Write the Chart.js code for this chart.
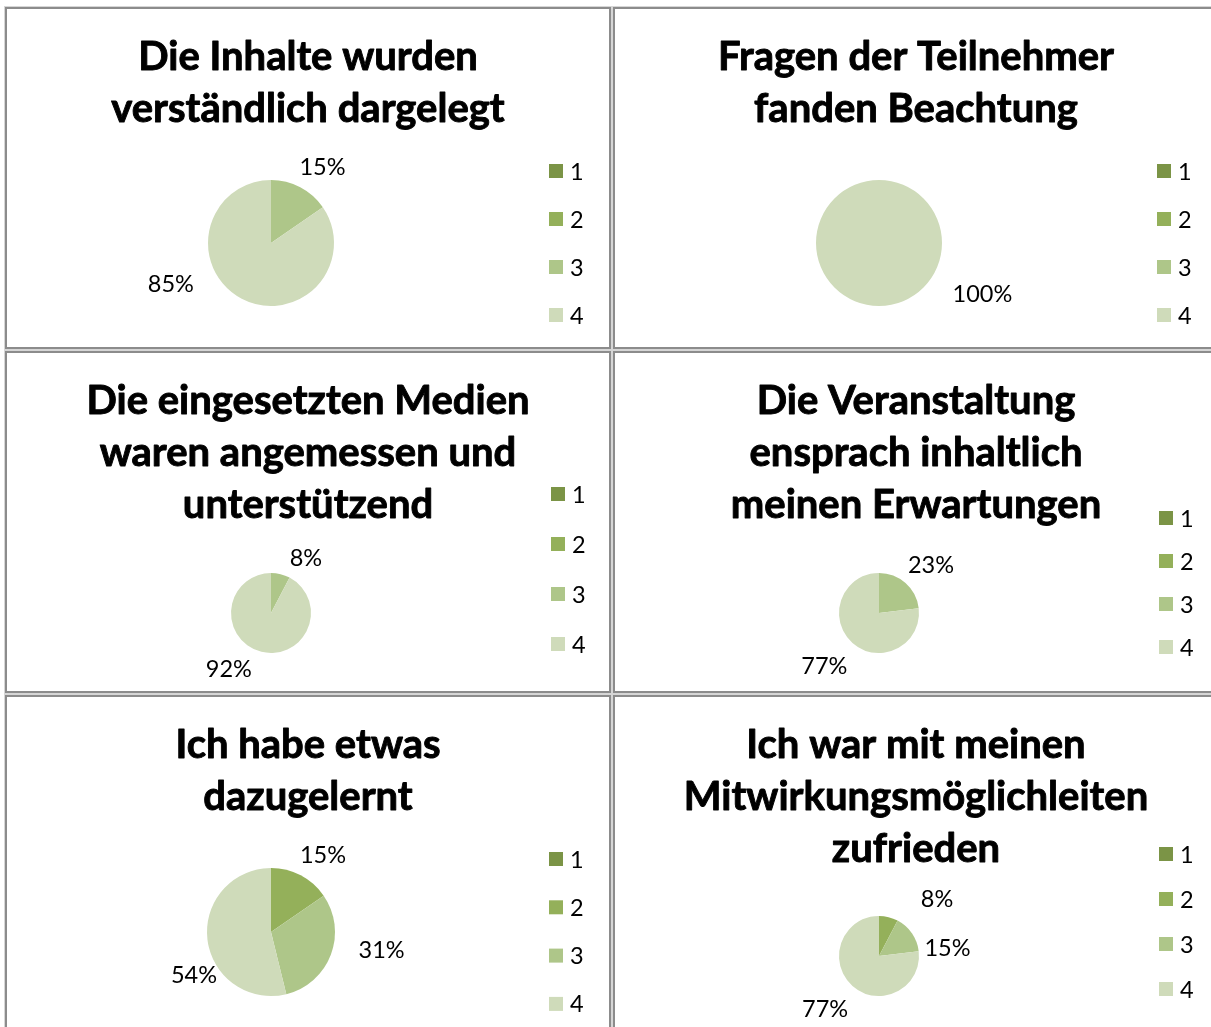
<!DOCTYPE html>
<html><head><meta charset="utf-8">
<script src="https://cdn.jsdelivr.net/npm/chart.js@4.4.1/dist/chart.umd.min.js"></script>
<style>
html,body{margin:0;padding:0;background:#fff;}
body{width:1211px;height:1027px;overflow:hidden;position:relative;}
.panel{position:absolute;box-sizing:border-box;width:606px;height:342px;border:2px solid #8c8c8c;box-shadow:0 0 0 1px #d6d6d6;background:#fff;}
.panel canvas{position:absolute;left:0;top:0;}
</style></head><body>
<script>
// ---- data ----
const categories = ['1', '2', '3', '4'];

const title1 = ['Die Inhalte wurden', 'verständlich dargelegt'];
const title2 = ['Fragen der Teilnehmer', 'fanden Beachtung'];
const title3 = ['Die eingesetzten Medien', 'waren angemessen und', 'unterstützend'];
const title4 = ['Die Veranstaltung', 'ensprach inhaltlich', 'meinen Erwartungen'];
const title5 = ['Ich habe etwas', 'dazugelernt'];
const title6 = ['Ich war mit meinen', 'Mitwirkungsmöglichleiten', 'zufrieden'];

// answer counts per rating 1..4 (13 responses)
const values1 = [0, 0, 2, 11];
const values2 = [0, 0, 0, 13];
const values3 = [0, 0, 1, 12];
const values4 = [0, 0, 3, 10];
const values5 = [0, 2, 4, 7];
const values6 = [0, 1, 2, 10];

// ---- style ----
const colors = ['#7b9446', '#94b05a', '#aec689', '#cfdbba'];
const FONT = 'Lato, "Open Sans", sans-serif';
const CW = 602, CH = 338;

const panels = [
  {title: title1, values: values1, col: 0, row: 0, cx: 264, cy: 234, r: 63, legX: 542, legTop: 162, legGap: 48, place: [[34, 29], [248, 45]]},
  {title: title2, values: values2, col: 1, row: 0, cx: 264, cy: 234, r: 63, legX: 542, legTop: 162, legGap: 48, place: [[116, 52]]},
  {title: title3, values: values3, col: 0, row: 1, cx: 264, cy: 260, r: 40, legX: 544, legTop: 141, legGap: 50, place: [[32, 26], [217, 30]]},
  {title: title4, values: values4, col: 1, row: 1, cx: 264, cy: 260, r: 40, legX: 544, legTop: 165, legGap: 43, place: [[47, 31], [226, 36]]},
  {title: title5, values: values5, col: 0, row: 2, cx: 264, cy: 235, r: 64, legX: 542, legTop: 162, legGap: 48.3, place: [[34, 29], [99, 48], [241, 24]]},
  {title: title6, values: values6, col: 1, row: 2, cx: 264, cy: 259, r: 40, legX: 544, legTop: 157, legGap: 45, place: [[45, 42], [83, 29], [226, 35]]}
];

const panelText = {
  id: 'panelText',
  afterDraw(chart, args, o) {
    const ctx = chart.ctx;
    ctx.save();
    ctx.fillStyle = '#000';
    ctx.strokeStyle = '#000';
    ctx.lineWidth = 0.9;
    ctx.lineJoin = 'round';
    ctx.textAlign = 'center';
    ctx.textBaseline = 'middle';
    ctx.font = 'bold ' + o.titleSize + 'px ' + FONT;
    o.title.forEach((line, i) => {
      const y = o.titleY + i * o.titleLH;
      ctx.fillText(line, chart.width / 2, y);
      ctx.strokeText(line, chart.width / 2, y);
    });

    const ds = chart.data.datasets[0];
    ctx.font = o.textSize + 'px ' + FONT;
    ctx.textAlign = 'left';
    chart.data.labels.forEach((lab, i) => {
      const y = o.legTop + i * o.legGap;
      ctx.fillStyle = ds.backgroundColor[i];
      ctx.fillRect(o.legX, y - 7, 14, 14);
      ctx.fillStyle = '#000';
      ctx.fillText(lab, o.legX + 21, y + 1);
    });

    const meta = chart.getDatasetMeta(0);
    const total = ds.data.reduce((a, b) => a + b, 0);
    ctx.textAlign = 'center';
    let k = 0;
    meta.data.forEach((arc, i) => {
      const v = ds.data[i];
      if (!v) return;
      const p = o.place[k++];
      const a = p[0] * Math.PI / 180;
      const d = arc.outerRadius + p[1];
      ctx.fillText(Math.round(v / total * 100) + '%', arc.x + d * Math.sin(a), arc.y - d * Math.cos(a) + 1);
    });
    ctx.restore();
  }
};

panels.forEach(p => {
  const div = document.createElement('div');
  div.className = 'panel';
  div.style.left = (5 + 608 * p.col) + 'px';
  div.style.top = (7 + 344 * p.row) + 'px';
  const cv = document.createElement('canvas');
  cv.width = CW; cv.height = CH;
  cv.style.width = CW + 'px'; cv.style.height = CH + 'px';
  div.appendChild(cv);
  document.body.appendChild(div);
  new Chart(cv, {
    type: 'pie',
    data: {labels: categories, datasets: [{data: p.values, backgroundColor: colors, borderWidth: 0}]},
    options: {
      responsive: false, animation: false, devicePixelRatio: 1, events: [],
      layout: {padding: {left: p.cx - p.r, right: CW - (p.cx + p.r), top: p.cy - p.r, bottom: CH - (p.cy + p.r)}},
      plugins: {
        legend: {display: false}, title: {display: false}, tooltip: {enabled: false},
        panelText: {title: p.title, titleSize: 40, titleY: 48, titleLH: 52, textSize: 23.5,
          legX: p.legX, legTop: p.legTop, legGap: p.legGap, place: p.place}
      }
    },
    plugins: [panelText]
  });
});
</script>
</body></html>
